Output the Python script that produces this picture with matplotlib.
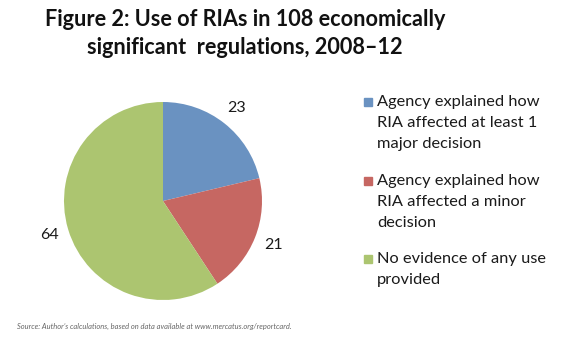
import matplotlib.pyplot as plt
import matplotlib.patches as mpatches

# data
categories = [
    'Agency explained how\nRIA affected at least 1\nmajor decision',
    'Agency explained how\nRIA affected a minor\ndecision',
    'No evidence of any use\nprovided',
]
values = [23, 21, 64]
colors = ['#6A92C1', '#C66762', '#ACC570']

plt.rcParams['font.family'] = ['Lato', 'DejaVu Sans']

W, H = 580, 340
fig = plt.figure(figsize=(W / 100, H / 100), dpi=100)
fig.patch.set_facecolor('white')

# title
fig.text(245 / W, 1 - 20 / H, 'Figure 2: Use of RIAs in 108 economically',
         ha='center', va='center', fontsize=15.6, fontweight='bold', color='#111111')
fig.text(245 / W, 1 - 48 / H, 'significant  regulations, 2008\u201312',
         ha='center', va='center', fontsize=15.6, fontweight='bold', color='#111111')

# pie
ax = fig.add_axes([64 / W, 1 - 300 / H, 198 / W, 198 / H])
wedges, texts = ax.pie(values, labels=[str(v) for v in values], colors=colors,
                       startangle=90, counterclock=False, labeldistance=1.2,
                       wedgeprops=dict(linewidth=0),
                       textprops=dict(fontsize=11.5, color='#1a1a1a'))
for t in texts:
    t.set_ha('center')
    t.set_va('center')
ax.set_xlim(-1, 1)
ax.set_ylim(-1, 1)
ax.set_aspect('equal')
ax.axis('off')

# legend drawn by hand so the square lines up with the first text line
tops = [95, 174, 252]
for lab, c, y in zip(categories, colors, tops):
    fig.patches.append(mpatches.Rectangle((364 / W, 1 - (y + 11) / H), 8 / W, 8 / H,
                                          transform=fig.transFigure, color=c))
    fig.text(377 / W, 1 - y / H, lab, ha='left', va='top', fontsize=11.8,
             linespacing=1.65, color='#1a1a1a')

# source note
fig.text(17 / W, 1 - 326 / H,
         "Source: Author\u2019s calculations, based on data available at www.mercatus.org/reportcard.",
         ha='left', va='center', fontsize=5.4, style='italic', color='#666666')

fig.savefig('out.png', dpi=100)
